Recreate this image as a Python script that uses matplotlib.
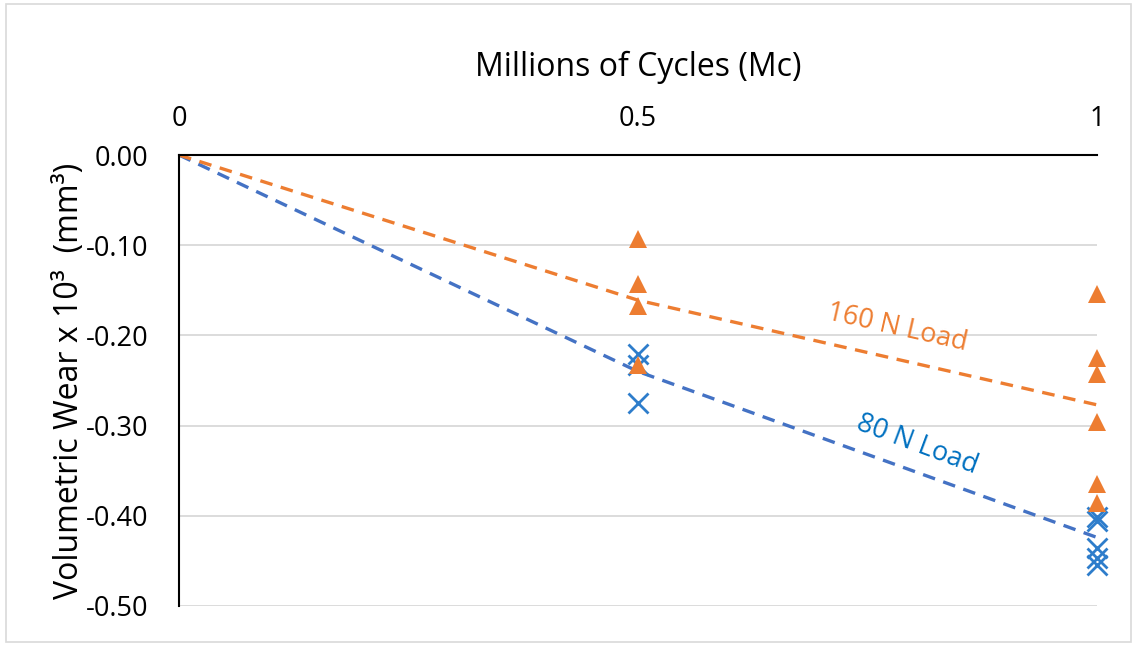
import matplotlib
matplotlib.use("Agg")
import matplotlib.pyplot as plt
from matplotlib.patches import Rectangle

plt.rcParams['font.family'] = ['Open Sans', 'DejaVu Sans']

# ---- data ----
x_ticks = [0, 0.5, 1]
x_tick_labels = ["0", "0.5", "1"]
y_ticks = [0.0, -0.1, -0.2, -0.3, -0.4, -0.5]
y_tick_labels = ["0.00", "-0.10", "-0.20", "-0.30", "-0.40", "-0.50"]

load160_x = [0.5, 0.5, 0.5, 0.5, 1, 1, 1, 1, 1, 1]
load160_y = [-0.093, -0.143, -0.167, -0.233, -0.154, -0.225, -0.243, -0.296, -0.365, -0.386]

load80_x = [0.5, 0.5, 0.5, 1, 1, 1, 1, 1]
load80_y = [-0.221, -0.233, -0.275, -0.401, -0.406, -0.436, -0.447, -0.454]

trend_x = [0, 0.5, 1]
trend160_y = [0.0, -0.161, -0.277]
trend80_y = [0.0, -0.240, -0.424]

orange = "#ED7D31"
blue_marker = "#2E7DCB"
blue_line = "#4472C4"
label_blue = "#0070C0"

fig = plt.figure(figsize=(11.38, 6.49), dpi=100)
W, H = 1138, 649
ax = fig.add_axes([179 / W, 1 - 606 / H, (1097 - 179) / W, (606 - 155) / H])

ax.set_xlim(0, 1)
ax.set_ylim(-0.5, 0)

# gridlines
for yv in y_ticks[1:]:
    ax.axhline(yv, color="#D9D9D9", lw=1.3, zorder=0)

ax.plot(trend_x, trend80_y, color=blue_line, lw=2.4, linestyle=(0, (3.8, 2.6)), zorder=2)
ax.plot(trend_x, trend160_y, color=orange, lw=2.4, linestyle=(0, (3.8, 2.6)), zorder=2)

ax.plot(load80_x, load80_y, linestyle="none", marker="x", markersize=14,
        markeredgewidth=2.0, color=blue_marker, zorder=3, clip_on=False)
ax.plot(load160_x, load160_y, linestyle="none", marker="^", markersize=13,
        color=orange, markeredgewidth=0, zorder=4, clip_on=False)

ax.text(0.782, -0.192, "160 N Load", color=orange, fontsize=19.5, rotation=-12.7,
        ha="center", va="center", zorder=5)
ax.text(0.804, -0.3215, "80 N Load", color=label_blue, fontsize=19.5, rotation=-20.5,
        ha="center", va="center", zorder=5)

# axes styling
for s in ["right", "bottom"]:
    ax.spines[s].set_visible(False)
ax.spines["top"].set_color("black")
ax.spines["top"].set_linewidth(1.5)
ax.spines["left"].set_color("black")
ax.spines["left"].set_linewidth(1.5)

ax.xaxis.tick_top()
ax.xaxis.set_label_position("top")
ax.set_xticks(x_ticks)
ax.set_xticklabels(x_tick_labels)
ax.set_yticks(y_ticks)
ax.set_yticklabels(y_tick_labels)
ax.tick_params(axis="x", length=0, pad=16, labelsize=19.5, colors="#000000")
ax.tick_params(axis="y", length=0, pad=22, labelsize=19.5, colors="#000000")

ax.set_xlabel("Millions of Cycles (Mc)", fontsize=23, labelpad=21)
ax.set_ylabel("Volumetric Wear x 10³  (mm³)", fontsize=23, labelpad=0)

# chart border
fig.patches.append(Rectangle((6 / W, 1 - 642 / H), (1131 - 6) / W, (642 - 4) / H,
                             transform=fig.transFigure, fill=False,
                             edgecolor="#D9D9D9", lw=1.2))

fig.savefig("out.png", dpi=100)
